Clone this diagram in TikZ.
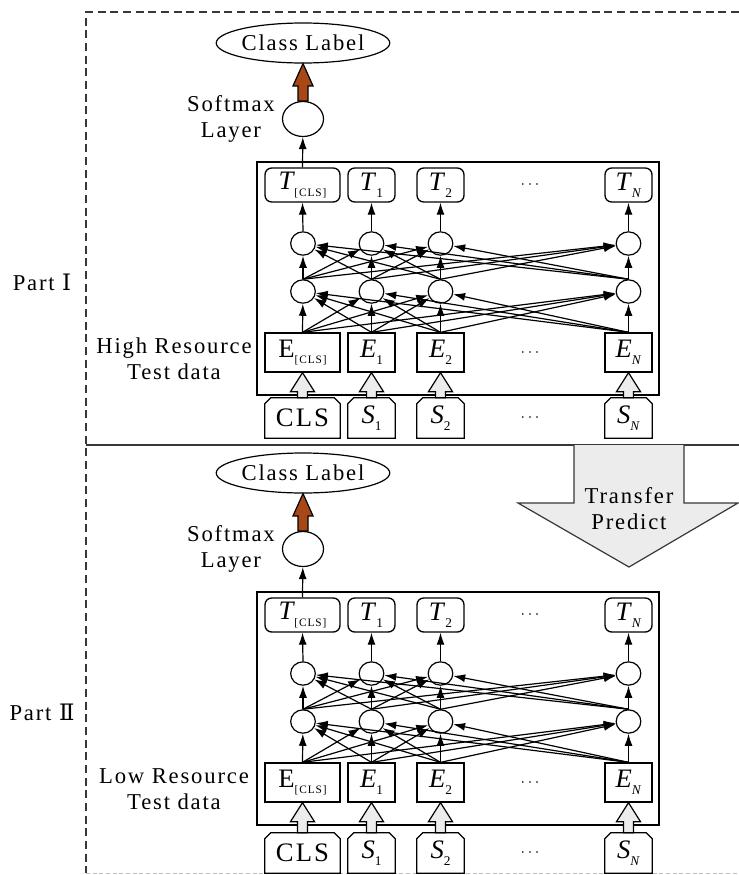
\documentclass[tikz,border=0pt]{standalone}
\usepackage{fontspec}
\setmainfont{Liberation Serif}
\newfontfamily\lsfont[LetterSpace=8]{Liberation Serif}
\newfontfamily\romfont{DejaVu Serif}
\usetikzlibrary{arrows.meta,shapes.geometric,shapes.misc,calc}
\definecolor{rust}{RGB}{168,72,22}
\definecolor{lgray}{RGB}{236,236,236}
\definecolor{framec}{RGB}{55,55,55}
\newcommand{\subsc}[1]{\raisebox{-0.55ex}{\fontsize{10}{10}\selectfont #1}}
\newcommand{\clssub}{\raisebox{-0.55ex}{\fontsize{8.5}{8.5}\lsfont [CLS]}}
\begin{document}
\begin{tikzpicture}[x=0.75pt,y=-0.75pt,
  every node/.style={inner sep=0pt},
  lbl/.style={font=\fontsize{17}{19.5}\lsfont, align=center},
  bxt/.style={font=\fontsize{20}{20}\selectfont},
  tbox/.style={draw, line width=1pt, rounded corners=5pt, minimum height=25.5pt, bxt},
  ebox/.style={draw, line width=1pt, minimum height=29.25pt, bxt},
  sbox/.style={minimum height=30pt, bxt},
  wide/.style={minimum width=56.25pt},
  narrow/.style={minimum width=35.25pt},
  neuron/.style={draw, line width=0.9pt, ellipse, minimum width=18.5pt, minimum height=17.5pt},
  net/.style={line width=0.9pt, -{Latex[length=9pt,width=6pt]}},
  dotsn/.style={font=\fontsize{13}{13}\selectfont},
  dashframe/.style={draw=framec, line width=0.9pt, dash pattern=on 6pt off 3.5pt},
  blockarrow/.style={draw, line width=0.9pt, fill=lgray, line join=miter}
]
\useasboundingbox (0,0) rectangle (739,875);

% frame
\draw[dashframe] (739,12) -- (86,12) -- (86,873);
\draw[draw=black!25, line width=0.6pt, dash pattern=on 3pt off 2pt] (86,873) -- (739,873);
\draw[draw=framec, line width=1pt] (86,445) -- (739,445);

\foreach \p/\off/\soff/\res/\num in {a/0/0/High/Ⅰ,b/430/435/Low/Ⅱ}{
  % labels
  \node[lbl] (\p-part) at (42,282+\off) {Part {\romfont\num}};
  \node[lbl] (\p-res) at (174,359+\off) {\res{} Resource\\Test data};
  \node[lbl] (\p-smt) at (231,119+\off) {Softmax\\Layer};
  % top
  \node[draw, line width=0.9pt, ellipse, minimum width=118.5pt, minimum height=30pt, lbl] (\p-cl) at (303,43+\off) {Class Label};
  \node[draw, line width=0.9pt, ellipse, minimum width=30.75pt, minimum height=26.25pt] (\p-sm) at (303,119+\off) {};
  % big box
  \node[draw, line width=1pt, minimum width=301.5pt, minimum height=174.75pt] (\p-box) at (458,278.5+\off) {};
  % T row
  \node[tbox, wide] (\p-t0) at (302.5,185+\off) {\textit{T}\kern-0.5pt\clssub};
  \node[tbox, narrow] (\p-t1) at (371.5,185+\off) {\textit{T}\subsc{1}};
  \node[tbox, narrow] (\p-t2) at (440.5,185+\off) {\textit{T}\subsc{2}};
  \node[tbox, narrow] (\p-tN) at (628.5,185+\off) {\textit{T}\subsc{\textit{N}}};
  \node[dotsn] (\p-td) at (530,185+\off) {$\cdots$};
  % neurons
  \foreach \c/\x in {0/303,1/371.5,2/440.5,N/628.5}{
    \node[neuron] (\p-u\c) at (\x,243.5+\off) {};
    \node[neuron] (\p-l\c) at (\x,291.5+\off) {};
  }
  % E row
  \node[ebox, wide] (\p-e0) at (302.5,352.5+\off) {E\clssub};
  \node[ebox, narrow] (\p-e1) at (371.5,352.5+\off) {\textit{E}\subsc{1}};
  \node[ebox, narrow] (\p-e2) at (440.5,352.5+\off) {\textit{E}\subsc{2}};
  \node[ebox, narrow] (\p-eN) at (628.5,352.5+\off) {\textit{E}\subsc{\textit{N}}};
  \node[dotsn] (\p-ed) at (530,352.5+\off) {$\cdots$};
  % S row
  \node[sbox, wide] (\p-s0) at (302.5,418+\soff) {{\lsfont CLS}};
  \node[sbox, narrow] (\p-s1) at (371.5,418+\soff) {\textit{S}\subsc{1}};
  \node[sbox, narrow] (\p-s2) at (440.5,418+\soff) {\textit{S}\subsc{2}};
  \node[sbox, narrow] (\p-sN) at (628.5,418+\soff) {\textit{S}\subsc{\textit{N}}};
  \node[dotsn] (\p-sd) at (530,418+\soff) {$\cdots$};
  % network edges
  \foreach \i in {0,1,2,N}{
    % chamfered outline of S box
    \draw[line width=1pt, line join=miter] (\p-s\i.south west) -- ($(\p-s\i.north west)+(0,6)$) -- ($(\p-s\i.north west)+(6,0)$)
       -- ($(\p-s\i.north east)+(-6,0)$) -- ($(\p-s\i.north east)+(0,6)$) -- (\p-s\i.south east) -- cycle;
    \foreach \j in {0,1,2,N}{
      \draw[net] (\p-e\i.north) -- (\p-l\j);
      \draw[net] (\p-l\i.north) -- (\p-u\j);
    }
    \draw[net] (\p-u\i.north) -- (\p-t\i.south);
    % input block arrows
    \draw[blockarrow] ($(\p-s\i.north)+(-5,0)$) -- ($(\p-e\i.south)+(-5,19)$) -- ++(-7,0)
       -- (\p-e\i.south) -- ($(\p-e\i.south)+(12,19)$) -- ++(-7,0) -- ($(\p-s\i.north)+(5,0)$) -- cycle;
  }
  \draw[net] (\p-t0.north) -- (\p-sm);
  % softmax to class label
  \draw[line width=0.9pt, fill=rust, line join=miter] ($(\p-sm.north)+(-5,0)$) -- ++(0,-15) -- ++(-5,0)
     -- (\p-cl.south) -- ($(\p-sm.north)+(10,-15)$) -- ++(-5,0) -- ++(0,15) -- cycle;
}

% transfer arrow
\coordinate (trtop) at (629,445);
\coordinate (trtip) at (629,567);
\draw[blockarrow, draw=framec] ($(trtop)+(-55,0)$) -- ($(trtop)+(-55,58)$) -- ($(trtop)+(-111,58)$) -- (trtip)
   -- ($(trtop)+(109,58)$) -- ($(trtop)+(55,58)$) -- ($(trtop)+(55,0)$);
\node[lbl] (tr) at (629,508.5) {Transfer\\Predict};
\end{tikzpicture}
\end{document}
